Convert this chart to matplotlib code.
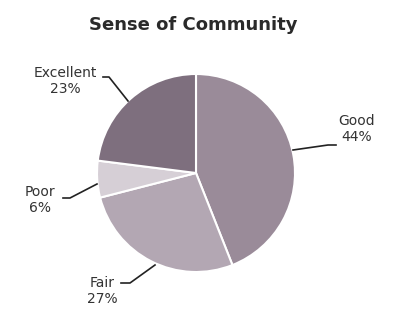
import matplotlib
matplotlib.use("Agg")
import matplotlib.pyplot as plt

categories = ["Good", "Fair", "Poor", "Excellent"]
values = [44, 27, 6, 23]
colors = ["#9a8b99", "#b3a7b3", "#d6cfd6", "#7e6f7e"]

H = 325
fig = plt.figure(figsize=(4.0, 3.25), dpi=100)
ax = fig.add_axes([0, 0, 1, 1])

wedges, _ = ax.pie(values, colors=colors, startangle=90, counterclock=False,
                   center=(196, H - 173), radius=99, frame=False,
                   wedgeprops=dict(edgecolor="white", linewidth=1.5))
ax.set_xlim(0, 400)
ax.set_ylim(0, H)
ax.set_aspect("equal")
ax.axis("off")

fig.text(0.4825, 1 - 25 / H, "Sense of Community", ha="center", va="center",
         fontsize=13, fontweight="bold", color="#2a2a2a", family="DejaVu Sans")

txt_color = "#333333"
labels_layout = {
    "Excellent": dict(text=(65, 81), line=[(103, 77), (109, 77), (128, 101)]),
    "Good": dict(text=(357, 129), line=[(293, 150), (328, 145), (336, 145)]),
    "Poor": dict(text=(40, 200), line=[(63, 198), (70, 198), (97, 184)]),
    "Fair": dict(text=(102, 291), line=[(121, 283), (130, 283), (155, 265)]),
}
for cat, val in zip(categories, values):
    lay = labels_layout[cat]
    ax.text(lay["text"][0], H - lay["text"][1], f"{cat}\n{val}%", ha="center", va="center",
            fontsize=10, color=txt_color, linespacing=1.15)
    xs = [p[0] for p in lay["line"]]
    ys = [H - p[1] for p in lay["line"]]
    ax.plot(xs, ys, color="#222222", lw=1.2)

fig.savefig("out.png", dpi=100, facecolor="white")
